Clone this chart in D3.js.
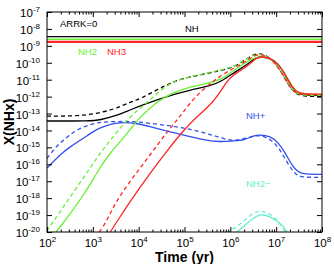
<!DOCTYPE html>
<html lang="en">
<head>
<meta charset="UTF-8">
<title>X(NHx) vs time</title>
<script src="https://cdn.jsdelivr.net/npm/d3@7"></script>
<style>
    body { margin: 0; background: #fff; }
    text { font-family: "Liberation Sans", Arial, sans-serif; }
</style>
</head>
<body>
<svg width="334" height="264"></svg>
<script>
// all values are log10 (time in yr, abundance X)
var nhT      = [2.00, 2.94, 3.16, 3.49, 3.81, 4.14, 4.64, 5.12, 5.56, 5.78, 6.10, 6.39, 6.54, 6.65, 6.87, 7.04, 7.20, 7.31, 7.41, 7.52, 7.74, 8.00];
var nhX      = [-13.44, -13.44, -13.38, -13.15, -12.79, -12.44, -11.96, -11.61, -11.37, -11.14, -10.55, -10.07, -9.72, -9.63, -9.72, -10.01, -10.72, -11.31, -11.67, -11.88, -11.93, -11.93];
var nhDashT  = [2.00, 2.61, 3.05, 3.49, 3.81, 4.03, 4.47, 4.71, 4.90, 5.34, 5.73, 6.06, 6.32, 6.48, 6.61, 6.78, 6.96, 7.13, 7.28, 7.41, 7.57, 8.00];
var nhDashX  = [-13.15, -13.15, -13.03, -12.73, -12.32, -12.14, -11.49, -11.20, -10.96, -10.72, -10.49, -10.28, -9.84, -9.54, -9.45, -9.54, -9.96, -10.61, -11.37, -11.79, -11.99, -11.99];

var nh2T     = [2.20, 2.50, 2.83, 3.16, 3.38, 3.59, 3.81, 4.03, 4.36, 4.71, 5.08, 5.45, 5.78, 6.06, 6.32, 6.48, 6.65, 6.87, 7.09, 7.24, 7.35, 7.46, 7.57, 8.00];
var nh2X     = [-20.00, -18.94, -17.70, -16.16, -15.33, -14.68, -13.97, -13.21, -12.38, -11.79, -11.46, -11.26, -11.02, -10.49, -10.01, -9.75, -9.63, -9.72, -10.19, -10.90, -11.43, -11.76, -11.88, -11.88];
var nh2DashT = [2.00, 2.28, 2.61, 2.94, 3.16, 3.42, 3.70, 4.03, 4.25, 4.53, 4.80, 5.08, 5.45, 5.78, 6.06, 6.32, 6.48, 6.61, 6.78, 6.96, 7.13, 7.28, 7.41, 7.57, 8.00];
var nh2DashX = [-19.94, -18.82, -17.52, -16.22, -15.33, -14.45, -13.50, -12.67, -12.20, -11.49, -11.08, -10.84, -10.63, -10.43, -10.25, -9.84, -9.57, -9.48, -9.57, -9.96, -10.55, -11.31, -11.79, -11.93, -11.93];

var nh3T     = [3.38, 3.59, 3.88, 4.25, 4.60, 4.93, 5.19, 5.52, 5.73, 5.91, 6.06, 6.21, 6.43, 6.56, 6.69, 6.87, 7.09, 7.24, 7.35, 7.46, 7.57, 8.00];
var nh3X     = [-20.00, -19.12, -17.93, -16.52, -15.27, -14.15, -13.38, -12.61, -11.96, -11.14, -10.72, -10.49, -10.07, -9.72, -9.63, -9.72, -10.19, -10.90, -11.43, -11.73, -11.85, -11.85];
var nh3DashT = [3.14, 3.27, 3.52, 3.88, 4.25, 4.60, 4.84, 4.97, 5.23, 5.52, 5.78, 6.06, 6.26, 6.43, 6.61, 6.78, 6.96, 7.13, 7.28, 7.41, 7.57, 8.00];
var nh3DashX = [-20.00, -19.53, -18.11, -16.75, -15.45, -14.15, -13.38, -12.91, -12.02, -11.31, -10.78, -10.34, -10.07, -9.72, -9.48, -9.57, -9.96, -10.61, -11.37, -11.79, -11.88, -11.88];

var nhpT     = [2.00, 2.17, 2.33, 2.50, 2.68, 2.87, 3.05, 3.27, 3.49, 3.70, 3.92, 4.25, 4.69, 5.12, 5.45, 5.78, 6.04, 6.32, 6.48, 6.65, 6.87, 7.04, 7.20, 7.35, 7.48, 7.61, 8.00];
var nhpX     = [-16.22, -15.75, -15.33, -14.98, -14.65, -14.33, -13.97, -13.74, -13.56, -13.52, -13.56, -13.77, -14.09, -14.36, -14.57, -14.68, -14.62, -14.57, -14.33, -14.24, -14.33, -14.68, -15.33, -16.10, -16.46, -16.59, -16.59];
var nhpDashT = [2.00, 2.17, 2.33, 2.50, 2.68, 2.94, 3.16, 3.49, 3.81, 4.03, 4.47, 4.90, 5.34, 5.67, 6.04, 6.32, 6.56, 6.78, 7.00, 7.15, 7.31, 7.44, 7.57, 8.00];
var nhpDashX = [-15.65, -15.04, -14.62, -14.27, -13.91, -13.65, -13.50, -13.47, -13.47, -13.50, -13.65, -13.80, -14.06, -14.33, -14.65, -14.48, -14.27, -14.36, -14.80, -15.45, -16.22, -16.63, -16.77, -16.77];

var nh2mT     = [6.13, 6.26, 6.39, 6.50, 6.61, 6.72, 6.87, 7.04, 7.15, 7.24];
var nh2mX     = [-20.03, -19.77, -19.41, -19.20, -19.00, -18.97, -19.09, -19.38, -19.65, -20.03];
var nh2mDashT = [5.91, 6.06, 6.21, 6.37, 6.50, 6.61, 6.74, 6.87, 7.00, 7.11, 7.20];
var nh2mDashX = [-20.03, -19.83, -19.53, -19.18, -18.88, -18.76, -18.79, -18.94, -19.23, -19.59, -20.03];

// flat reference levels: NH, NH2, NH3
var levelX = [-8.46, -8.61, -8.77];

var xTickExp = [2, 3, 4, 5, 6, 7, 8];
var yTickExp = [-20, -19, -18, -17, -16, -15, -14, -13, -12, -11, -10, -9, -8, -7];

var black = "#000000", green = "#66f030", red = "#ff2424", blue = "#3050ee", cyan = "#66eecc";

var svg = d3.select("svg"),
    mL = 47, mR = 322, mT = 12, mB = 232;

var xScale = d3.scaleLog().domain([1e2, 1e8]).range([mL, mR]);
var yScale = d3.scaleLog().domain([1e-20, 1e-7]).range([mB, mT]);

svg.append("clipPath").attr("id", "plot")
    .append("rect")
    .attr("x", mL).attr("y", mT)
    .attr("width", mR - mL).attr("height", mB - mT);

var series = [
    {t: nhT, x: nhX, c: black, d: null},
    {t: nhDashT, x: nhDashX, c: black, d: "4,3"},
    {t: nhpT, x: nhpX, c: blue, d: null},
    {t: nhpDashT, x: nhpDashX, c: blue, d: "4,3"},
    {t: nh2mT, x: nh2mX, c: cyan, d: null},
    {t: nh2mDashT, x: nh2mDashX, c: cyan, d: "4,3"},
    {t: nh2T, x: nh2X, c: green, d: null},
    {t: nh2DashT, x: nh2DashX, c: green, d: "4,3"},
    {t: nh3T, x: nh3X, c: red, d: null},
    {t: nh3DashT, x: nh3DashX, c: red, d: "4,3"}
];

var line = d3.line()
    .x(function(p) { return xScale(Math.pow(10, p[0])); })
    .y(function(p) { return yScale(Math.pow(10, p[1])); })
    .curve(d3.curveBasis);

var g = svg.append("g").attr("clip-path", "url(#plot)");

series.forEach(function(s) {
    var pts = s.t.map(function(v, i) { return [v, s.x[i]]; });
    g.append("path")
        .attr("d", line(pts))
        .attr("fill", "none")
        .attr("stroke", s.c)
        .attr("stroke-width", 1.3)
        .attr("stroke-dasharray", s.d);
});

var levelColors = [black, green, red];
levelX.forEach(function(v, i) {
    g.append("path")
        .attr("d", line([[2, v], [8, v]]))
        .attr("fill", "none")
        .attr("stroke", levelColors[i])
        .attr("stroke-width", i == 2 ? 2.2 : 1.3);
});

// axes, ticks pointing inward like matlab
var xMinor = [];
xTickExp.slice(0, -1).forEach(function(e) {
    for (var k = 2; k <= 9; k++) xMinor.push(k * Math.pow(10, e));
});
var xMajor = xTickExp.map(function(e) { return Math.pow(10, e); });
var yMajor = yTickExp.map(function(e) { return Math.pow(10, e); });

function supLabel(sel, exps) {
    sel.selectAll(".tick text").each(function(d, i) {
        var t = d3.select(this).text("");
        t.append("tspan").text("10");
        t.append("tspan").attr("dy", -5).attr("font-size", "8px").text(exps[i]);
    });
}

var axB = svg.append("g").attr("transform", "translate(0," + mB + ")")
    .call(d3.axisBottom(xScale).tickValues(xMajor).tickSize(-5).tickPadding(7).tickFormat(function() { return ""; }));
axB.selectAll(".tick text").attr("font-size", "11.5px").attr("fill", "#000");
supLabel(axB, xTickExp);

svg.append("g").attr("transform", "translate(0," + mB + ")")
    .call(d3.axisBottom(xScale).tickValues(xMinor).tickSize(-2.5).tickFormat(""))
    .call(function(a) { a.select(".domain").remove(); });

svg.append("g").attr("transform", "translate(0," + mT + ")")
    .call(d3.axisTop(xScale).tickValues(xMajor).tickSize(-5).tickFormat(""))
    .call(function(a) { a.select(".domain").remove(); });
svg.append("g").attr("transform", "translate(0," + mT + ")")
    .call(d3.axisTop(xScale).tickValues(xMinor).tickSize(-2.5).tickFormat(""))
    .call(function(a) { a.select(".domain").remove(); });

var axL = svg.append("g").attr("transform", "translate(" + mL + ",0)")
    .call(d3.axisLeft(yScale).tickValues(yMajor).tickSize(-5).tickPadding(7).tickFormat(function() { return ""; }));
axL.selectAll(".tick text").attr("font-size", "11.5px").attr("fill", "#000").attr("dy", "0.4em");
supLabel(axL, yTickExp.map(function(e) { return "-" + Math.abs(e); }));

svg.append("g").attr("transform", "translate(" + mR + ",0)")
    .call(d3.axisRight(yScale).tickValues(yMajor).tickSize(-5).tickFormat(""))
    .call(function(a) { a.select(".domain").remove(); });

svg.selectAll(".domain").remove();
svg.append("rect")
    .attr("x", mL).attr("y", mT)
    .attr("width", mR - mL).attr("height", mB - mT)
    .attr("fill", "none").attr("stroke", "#000").attr("stroke-width", 1);

// labels
svg.append("text").attr("x", (mL + mR) / 2).attr("y", 262)
    .attr("text-anchor", "middle").attr("font-size", "14px").attr("font-weight", "bold")
    .text("Time (yr)");
svg.append("text").attr("transform", "translate(14," + (mT + mB) / 2 + ") rotate(-90)")
    .attr("text-anchor", "middle").attr("font-size", "14px").attr("font-weight", "bold")
    .text("X(NHx)");

var notes = [
    {s: "ARRK=0", x: 60, y: 27, c: black},
    {s: "NH", x: 185, y: 32, c: black},
    {s: "NH2", x: 78, y: 55, c: green},
    {s: "NH3", x: 107, y: 55, c: red},
    {s: "NH+", x: 246, y: 119, c: blue},
    {s: "NH2\u2212", x: 246, y: 187, c: cyan}
];
notes.forEach(function(n) {
    svg.append("text").attr("x", n.x).attr("y", n.y)
        .attr("font-size", "9.5px").attr("fill", n.c).text(n.s);
});
</script>
</body>
</html>
